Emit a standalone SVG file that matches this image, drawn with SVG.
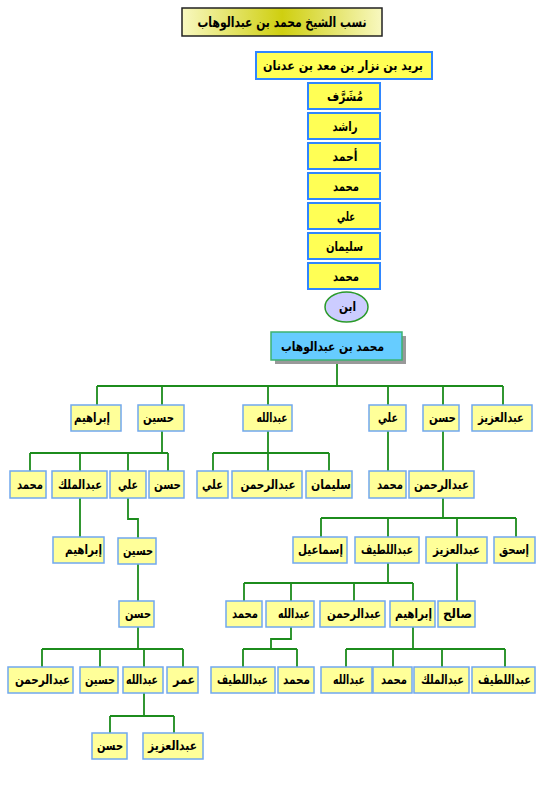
<svg xmlns="http://www.w3.org/2000/svg" width="550" height="795" viewBox="0 0 550 795">
<style>
.n rect{fill:#ffff99;stroke:#70a8ee;stroke-width:1.5}
.s rect{fill:#ffff55;stroke:#2f86ff;stroke-width:2}
text{font-family:"DejaVu Sans",sans-serif;font-weight:bold;font-size:13px;text-anchor:middle;fill:#000}
#connectors path{fill:none;stroke:#1c8c1c;stroke-width:1.8}
</style>
<defs>
<linearGradient id="tg" x1="0" y1="0" x2="1" y2="0">
<stop offset="0" stop-color="#f8f8c0"/>
<stop offset="0.5" stop-color="#cfcf10"/>
<stop offset="1" stop-color="#f8f8c0"/>
</linearGradient>
</defs>
<rect width="550" height="795" fill="#fff"/>
<g id="title">
<rect x="182" y="8" width="200" height="28" fill="url(#tg)" stroke="#222" stroke-width="1.5"/>
<text x="282" y="27" style="font-size:14px" textLength="169" lengthAdjust="spacingAndGlyphs">نسب الشيخ محمد بن عبدالوهاب</text>
</g>
<g id="connectors">
<path d="M337 360V386M97 386H503M97 386V405M162 386V405M268 386V405M388 386V405M443 386V405M503 386V405"/>
<path d="M162 431V453M30 453H168M30 453V471M80 453V471M128 453V471M168 453V471"/>
<path d="M268 431V471M213 453H329M213 453V471M329 453V471"/>
<path d="M388 431V471M443 431V471"/>
<path d="M80 498V537M128 498V519H138V538"/>
<path d="M443 498V518M321 518H516M321 518V537M388 518V537M457 518V537M516 518V537"/>
<path d="M138 564V601"/>
<path d="M388 563V583M244 583H413M244 583V601M291 583V601M354 583V601M413 583V601"/>
<path d="M457 563V601"/>
<path d="M138 627V649M42 649H183M42 649V667M100 649V667M144 649V667M183 649V667"/>
<path d="M291 627V639H271V649M243 649H297M243 649V667M297 649V667"/>
<path d="M413 627V649M346 649H505M346 649V667M393 649V667M442 649V667M505 649V667"/>
<path d="M144 693V716M110 716H174M110 716V733M174 716V733"/>
</g>
<g id="adnan" class="s"><rect x="256" y="52" width="176" height="27"/><text x="343" y="70" textLength="160" lengthAdjust="spacingAndGlyphs">بريد بن نزار بن معد بن عدنان</text></g>
<g id="mushrif" class="s"><rect x="308" y="83" width="72" height="26"/><text x="345" y="101" textLength="36" lengthAdjust="spacingAndGlyphs">مُشَرَّف</text></g>
<g id="rashid" class="s"><rect x="308" y="113" width="72" height="26"/><text x="345" y="131" textLength="25" lengthAdjust="spacingAndGlyphs">راشد</text></g>
<g id="ahmad" class="s"><rect x="308" y="143" width="72" height="26"/><text x="345" y="161" textLength="25" lengthAdjust="spacingAndGlyphs">أحمد</text></g>
<g id="muhammad_a" class="s"><rect x="308" y="173" width="72" height="26"/><text x="346" y="191" textLength="26" lengthAdjust="spacingAndGlyphs">محمد</text></g>
<g id="ali_a" class="s"><rect x="308" y="203" width="72" height="26"/><text x="346" y="221" textLength="18" lengthAdjust="spacingAndGlyphs">علي</text></g>
<g id="sulayman_a" class="s"><rect x="308" y="233" width="72" height="26"/><text x="344.5" y="251" textLength="37" lengthAdjust="spacingAndGlyphs">سليمان</text></g>
<g id="muhammad_b" class="s"><rect x="308" y="263" width="72" height="26"/><text x="346" y="281" textLength="26" lengthAdjust="spacingAndGlyphs">محمد</text></g>
<g id="ibn"><ellipse cx="346.5" cy="307" rx="21.5" ry="15" fill="#ccccff" stroke="#2a9a2a" stroke-width="1.5"/><text x="347.5" y="311" textLength="17" lengthAdjust="spacingAndGlyphs">ابن</text></g>
<g id="main">
<rect x="275" y="336" width="131" height="28" fill="#999"/>
<rect x="271" y="332" width="131" height="28" fill="#66ccff" stroke="#3cb371" stroke-width="1.5"/>
<text x="332.5" y="351" textLength="103" lengthAdjust="spacingAndGlyphs">محمد بن عبدالوهاب</text>
</g>
<g id="r1_ibrahim" class="n"><rect x="71" y="405" width="50" height="26"/><text x="92" y="422" textLength="36" lengthAdjust="spacingAndGlyphs">إبراهيم</text></g>
<g id="r1_husayn" class="n"><rect x="138" y="405" width="46" height="26"/><text x="158.5" y="422" textLength="31" lengthAdjust="spacingAndGlyphs">حسين</text></g>
<g id="r1_abdullah" class="n"><rect x="243" y="405" width="49" height="26"/><text x="272" y="422" textLength="31" lengthAdjust="spacingAndGlyphs">عبدالله</text></g>
<g id="r1_ali" class="n"><rect x="369" y="405" width="37" height="26"/><text x="388" y="422" textLength="20" lengthAdjust="spacingAndGlyphs">علي</text></g>
<g id="r1_hasan" class="n"><rect x="423" y="405" width="36" height="26"/><text x="442.5" y="422" textLength="27" lengthAdjust="spacingAndGlyphs">حسن</text></g>
<g id="r1_abdulaziz" class="n"><rect x="472" y="405" width="60" height="26"/><text x="501" y="422" textLength="46" lengthAdjust="spacingAndGlyphs">عبدالعزيز</text></g>
<g id="r2_muhammad1" class="n"><rect x="10" y="471" width="36" height="27"/><text x="30" y="489" textLength="26" lengthAdjust="spacingAndGlyphs">محمد</text></g>
<g id="r2_abdulmalik" class="n"><rect x="52" y="471" width="55" height="27"/><text x="80" y="489" textLength="44" lengthAdjust="spacingAndGlyphs">عبدالملك</text></g>
<g id="r2_ali1" class="n"><rect x="110" y="471" width="36" height="27"/><text x="128" y="489" textLength="20" lengthAdjust="spacingAndGlyphs">علي</text></g>
<g id="r2_hasan" class="n"><rect x="149" y="471" width="35" height="27"/><text x="167.5" y="489" textLength="27" lengthAdjust="spacingAndGlyphs">حسن</text></g>
<g id="r2_ali2" class="n"><rect x="197" y="471" width="31" height="27"/><text x="212.5" y="489" textLength="21" lengthAdjust="spacingAndGlyphs">علي</text></g>
<g id="r2_abdulrahman1" class="n"><rect x="232" y="471" width="70" height="27"/><text x="268" y="489" textLength="55" lengthAdjust="spacingAndGlyphs">عبدالرحمن</text></g>
<g id="r2_sulayman" class="n"><rect x="306" y="471" width="46" height="27"/><text x="331" y="489" textLength="40" lengthAdjust="spacingAndGlyphs">سليمان</text></g>
<g id="r2_muhammad2" class="n"><rect x="369" y="471" width="37" height="27"/><text x="390" y="489" textLength="26" lengthAdjust="spacingAndGlyphs">محمد</text></g>
<g id="r2_abdulrahman2" class="n"><rect x="409" y="471" width="65" height="27"/><text x="441.5" y="489" textLength="55" lengthAdjust="spacingAndGlyphs">عبدالرحمن</text></g>
<g id="r3_ibrahim" class="n"><rect x="53" y="537" width="51" height="26"/><text x="83.5" y="554" textLength="37" lengthAdjust="spacingAndGlyphs">إبراهيم</text></g>
<g id="r3_husayn" class="n"><rect x="118" y="538" width="38" height="26"/><text x="138" y="555" textLength="30" lengthAdjust="spacingAndGlyphs">حسين</text></g>
<g id="r3_ismail" class="n"><rect x="293" y="537" width="54" height="26"/><text x="320.5" y="554" textLength="45" lengthAdjust="spacingAndGlyphs">إسماعيل</text></g>
<g id="r3_abdullatif" class="n"><rect x="355" y="537" width="64" height="26"/><text x="387" y="554" textLength="52" lengthAdjust="spacingAndGlyphs">عبداللطيف</text></g>
<g id="r3_abdulaziz" class="n"><rect x="426" y="537" width="61" height="26"/><text x="456.5" y="554" textLength="47" lengthAdjust="spacingAndGlyphs">عبدالعزيز</text></g>
<g id="r3_ishaq" class="n"><rect x="494" y="537" width="41" height="26"/><text x="514" y="554" textLength="30" lengthAdjust="spacingAndGlyphs">إسحق</text></g>
<g id="r4_hasan" class="n"><rect x="119" y="601" width="35" height="26"/><text x="138" y="618" textLength="26" lengthAdjust="spacingAndGlyphs">حسن</text></g>
<g id="r4_muhammad" class="n"><rect x="226" y="601" width="36" height="26"/><text x="245" y="618" textLength="26" lengthAdjust="spacingAndGlyphs">محمد</text></g>
<g id="r4_abdullah" class="n"><rect x="266" y="601" width="48" height="26"/><text x="294" y="618" textLength="32" lengthAdjust="spacingAndGlyphs">عبدالله</text></g>
<g id="r4_abdulrahman" class="n"><rect x="320" y="601" width="65" height="26"/><text x="354" y="618" textLength="54" lengthAdjust="spacingAndGlyphs">عبدالرحمن</text></g>
<g id="r4_ibrahim" class="n"><rect x="390" y="601" width="45" height="26"/><text x="413.5" y="618" textLength="37" lengthAdjust="spacingAndGlyphs">إبراهيم</text></g>
<g id="r4_salih" class="n"><rect x="438" y="601" width="37" height="26"/><text x="457.5" y="618" textLength="29" lengthAdjust="spacingAndGlyphs">صالح</text></g>
<g id="r5_abdulrahman" class="n"><rect x="8" y="667" width="65" height="26"/><text x="42.5" y="684" textLength="55" lengthAdjust="spacingAndGlyphs">عبدالرحمن</text></g>
<g id="r5_husayn" class="n"><rect x="80" y="667" width="38" height="26"/><text x="100" y="684" textLength="30" lengthAdjust="spacingAndGlyphs">حسين</text></g>
<g id="r5_abdullah1" class="n"><rect x="123" y="667" width="40" height="26"/><text x="142" y="684" textLength="32" lengthAdjust="spacingAndGlyphs">عبدالله</text></g>
<g id="r5_umar" class="n"><rect x="167" y="667" width="31" height="26"/><text x="184" y="684" textLength="22" lengthAdjust="spacingAndGlyphs">عمر</text></g>
<g id="r5_abdullatif1" class="n"><rect x="211" y="667" width="64" height="26"/><text x="242.5" y="684" textLength="51" lengthAdjust="spacingAndGlyphs">عبداللطيف</text></g>
<g id="r5_muhammad1" class="n"><rect x="278" y="667" width="36" height="26"/><text x="296.5" y="684" textLength="27" lengthAdjust="spacingAndGlyphs">محمد</text></g>
<g id="r5_abdullah2" class="n"><rect x="321" y="667" width="51" height="26"/><text x="349" y="684" textLength="32" lengthAdjust="spacingAndGlyphs">عبدالله</text></g>
<g id="r5_muhammad2" class="n"><rect x="373" y="667" width="39" height="26"/><text x="394" y="684" textLength="26" lengthAdjust="spacingAndGlyphs">محمد</text></g>
<g id="r5_abdulmalik" class="n"><rect x="414" y="667" width="55" height="26"/><text x="442.5" y="684" textLength="43" lengthAdjust="spacingAndGlyphs">عبدالملك</text></g>
<g id="r5_abdullatif2" class="n"><rect x="472" y="667" width="63" height="26"/><text x="504.5" y="684" textLength="53" lengthAdjust="spacingAndGlyphs">عبداللطيف</text></g>
<g id="r6_hasan" class="n"><rect x="92" y="733" width="35" height="26"/><text x="110" y="750" textLength="26" lengthAdjust="spacingAndGlyphs">حسن</text></g>
<g id="r6_abdulaziz" class="n"><rect x="143" y="733" width="60" height="26"/><text x="172.5" y="750" textLength="49" lengthAdjust="spacingAndGlyphs">عبدالعزيز</text></g>
</svg>
